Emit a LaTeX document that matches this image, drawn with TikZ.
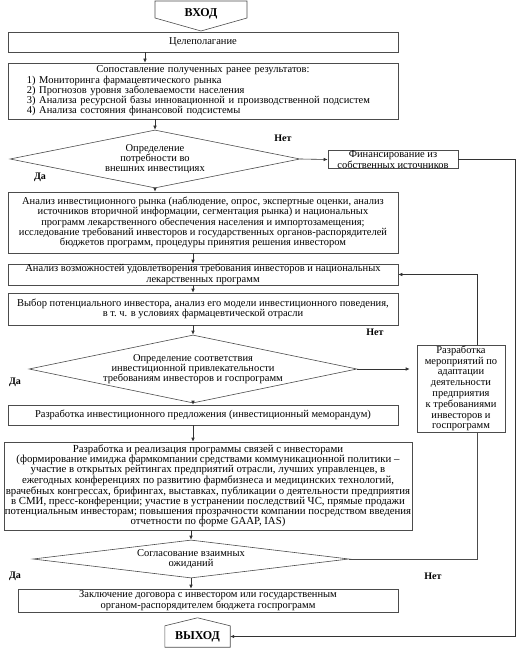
\documentclass[tikz,border=0pt]{standalone}
\usepackage{fontspec}
\setmainfont{Liberation Serif}
\usetikzlibrary{shapes.geometric}
\usetikzlibrary{arrows.meta}
\tikzset{
  box/.style={draw=black!70, line width=0.6bp, inner sep=1bp, align=center, font=\fontsize{10.5bp}{10.3bp}\selectfont},
  ask/.style={diamond, draw=black!70, line width=0.6bp, inner sep=-4bp, aspect=5, align=center, font=\fontsize{10.5bp}{10.3bp}\selectfont},
  arr/.style={draw=black!80, line width=0.6bp, -{Latex[length=4bp,width=3.5bp]}},
  link/.style={draw=black!70, line width=0.6bp},
  yesno/.style={font=\fontsize{10bp}{10bp}\selectfont\bfseries, inner sep=0pt},
  gate/.style={font=\fontsize{12bp}{12bp}\selectfont\bfseries, inner sep=0pt}
}

\begin{document}
\begin{tikzpicture}[x=1bp,y=-1bp]
\useasboundingbox (0,0) rectangle (519,649);

% entry and goal
\node[gate] (entry) at (201,14) {ВХОД};
\draw[link] (155,1) -- (247,1) -- (247,18) -- (201,31) -- (155,18) -- cycle;
\node[box, minimum width=390bp, minimum height=20bp] (goal) at (203,42) {Целеполагание};
\node[box, text width=352bp, align=left, minimum width=390bp, minimum height=56bp] (compare) at (203,91)
  {\makebox[352bp]{Сопоставление полученных ранее результатов:}\\1) Мониторинга фармацевтического рынка\\2) Прогнозов уровня заболеваемости населения\\3) Анализа ресурсной базы инновационной и производственной подсистем\\4) Анализа состояния финансовой подсистемы};

% first decision
\node[ask, minimum width=290bp, minimum height=58bp] (need) at (155,159)
  {Определение\\потребности во\\внешних инвестициях};
\node[box, minimum width=130bp, minimum height=17bp, inner sep=0pt, font=\fontsize{10.5bp}{9bp}\selectfont] (own) at (393,159.5)
  {Финансирование из\\собственных источников};
\node[yesno] (no1) at (283,138) {Нет};
\node[yesno] (yes1) at (40,177) {Да};

% market analysis
\node[box, minimum width=390bp, minimum height=61bp] (market) at (203,222.5)
  {Анализ инвестиционного рынка (наблюдение, опрос, экспертные оценки, анализ\\источников вторичной информации, сегментация рынка) и национальных\\программ лекарственного обеспечения населения и импортозамещения;\\исследование требований инвесторов и государственных органов-распорядителей\\бюджетов программ, процедуры принятия решения инвестором};
\node[box, minimum width=390bp, minimum height=21bp, inner sep=0pt] (possib) at (203,274.5)
  {Анализ возможностей удовлетворения требования инвесторов и национальных\\лекарственных программ};
\node[box, minimum width=390bp, minimum height=32bp] (select) at (203,309)
  {Выбор потенциального инвестора, анализ его модели инвестиционного поведения,\\в т.~ч. в условиях фармацевтической отрасли};

% second decision
\node[ask, minimum width=328bp, minimum height=68bp] (fit) at (193,369)
  {Определение соответствия\\инвестиционной привлекательности\\требованиям инвесторов и госпрограмм};
\node[box, minimum width=88bp, minimum height=87bp, inner sep=0pt, font=\fontsize{10.5bp}{10.8bp}\selectfont] (adapt) at (461,388.5)
  {Разработка\\мероприятий по\\адаптации\\деятельности\\предприятия\\к требованиями\\инвесторов и\\госпрограмм};
\node[yesno] (no2) at (375,332) {Нет};
\node[yesno] (yes2) at (15,382) {Да};

% offer and investor relations
\node[box, minimum width=390bp, minimum height=20bp] (offer) at (203,415)
  {Разработка инвестиционного предложения (инвестиционный меморандум)};
\node[box, minimum width=400bp, minimum height=88bp, font=\fontsize{10.8bp}{10bp}\selectfont] (relat) at (208,486)
  {Разработка и реализация программы связей с инвесторами\\(формирование имиджа фармкомпании средствами коммуникационной политики –\\участие в открытых рейтингах предприятий отрасли, лучших управленцев, в\\ежегодных конференциях по развитию фармбизнеса и медицинских технологий,\\врачебных конгрессах, брифингах, выставках, публикации о деятельности предприятия\\в СМИ, пресс-конференции; участие в устранении последствий ЧС, прямые продажи\\потенциальным инвесторам; повышения прозрачности компании посредством введения\\отчетности по форме GAAP, IAS)};

% third decision
\node[ask, aspect=8, minimum width=316bp, minimum height=38bp] (agree) at (191,559)
  {Согласование взаимных\\ожиданий};
\node[yesno] (yes3) at (15,576) {Да};
\node[yesno] (no3) at (433,576) {Нет};
\node[box, minimum width=380bp, minimum height=23bp, inner sep=0pt] (deal) at (208,600.5)
  {Заключение договора с инвестором или государственным\\органом-распорядителем бюджета госпрограмм};

% exit
\node[gate, minimum width=65bp, minimum height=21bp] (exit) at (197.5,636.5) {ВЫХОД};
\draw[link] (exit.south west) -- (exit.north west) -- ([yshift=8bp]exit.north) -- (exit.north east) -- (exit.south east) -- cycle;
\coordinate (rail) at (515,636.5);

% connectors
\draw[arr] ([xshift=-58bp]goal.south) -- ([xshift=-58bp]goal.south |- compare.north);
\draw[arr] (compare.south -| need.north) -- (need.north);
\draw[arr] (need.east) -- (own.west);
\draw[arr] (need.south) -- (need.south |- market.north);
\draw[arr] (market.south -| fit.north) -- (fit.north |- possib.north);
\draw[arr] (possib.south -| fit.north) -- (fit.north |- select.north);
\draw[arr] (select.south -| fit.north) -- (fit.north);
\draw[arr, shorten >=7bp] (fit.east) -- (fit.east -| adapt.west);
\draw[arr] ([xshift=16bp]adapt.north) |- (possib.east);
\draw[arr] (fit.south) -- (fit.south |- offer.north);
\draw[arr] (offer.south -| fit.south) -- (fit.south |- relat.north);
\draw[arr] (relat.south -| agree.north) -- (agree.north);
\draw[link] (agree.east) -| ([xshift=16bp]adapt.south);
\draw[arr] (agree.south) -- (agree.south |- deal.north);
\draw[arr] (own.east) -| (rail) -- (exit.east);

\end{tikzpicture}
\end{document}
